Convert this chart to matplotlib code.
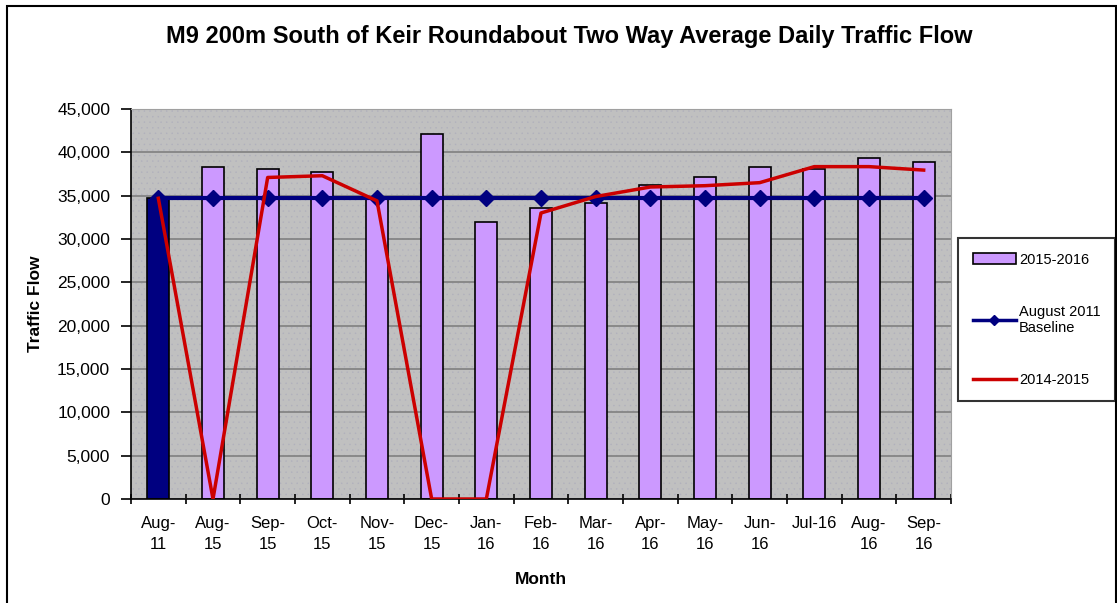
import numpy as np
import matplotlib
matplotlib.use("Agg")
import matplotlib.pyplot as plt
from matplotlib.patches import Rectangle
from matplotlib.lines import Line2D

plt.rcParams['font.family'] = ['Liberation Sans', 'DejaVu Sans']
plt.rcParams['hatch.linewidth'] = 0.3

# dati
mesi = ['Aug-\n11', 'Aug-\n15', 'Sep-\n15', 'Oct-\n15', 'Nov-\n15', 'Dec-\n15', 'Jan-\n16',
        'Feb-\n16', 'Mar-\n16', 'Apr-\n16', 'May-\n16', 'Jun-\n16', 'Jul-16\n', 'Aug-\n16', 'Sep-\n16']
flusso_2015_2016 = [34700, 38300, 38100, 37700, 34800, 42100, 32000,
                    33600, 34200, 36200, 37200, 38300, 38100, 39300, 38900]
baseline_2011 = [34700] * 15
flusso_2014_2015 = [34700, 0, 37100, 37300, 34400, 0, 0,
                    33000, 34900, 36000, 36150, 36500, 38350, 38350, 37950]

x = np.arange(len(mesi))

fig = plt.figure(figsize=(11.17, 6.03), dpi=100)
ax = fig.add_axes([131 / 1117, 1 - 499 / 603, 820 / 1117, 390 / 603])

# sfondo grigio puntinato
ax.set_facecolor('#C0C0C0')
ax.add_patch(Rectangle((0, 0), 1, 1, transform=ax.transAxes, facecolor='none',
                       edgecolor='#B0B0BC', hatch='...', linewidth=0, zorder=0))

# griglia orizzontale
ax.yaxis.grid(True, color='#808080', linewidth=1.2, zorder=1)
ax.set_axisbelow(True)

colori = ['#000080'] + ['#CC99FF'] * (len(mesi) - 1)
ax.bar(x, flusso_2015_2016, width=0.4, color=colori, edgecolor='black', linewidth=1.2, zorder=2)

ax.plot(x, baseline_2011, color='#000080', linewidth=3, marker='D', markersize=8, zorder=3)
ax.plot(x, flusso_2014_2015, color='#CC0000', linewidth=2.5, zorder=4)

ax.set_xlim(-0.5, len(mesi) - 0.5)
ax.set_ylim(0, 45000)
ax.set_yticks(np.arange(0, 45001, 5000))
ax.set_yticklabels([f'{v:,}' for v in range(0, 45001, 5000)], fontsize=12.5)
ax.set_xticks(x)
ax.set_xticklabels(mesi, fontsize=12, linespacing=1.55)
ax.set_xticks(np.arange(-0.5, len(mesi), 1), minor=True)
ax.tick_params(axis='x', which='major', length=0, pad=12)
ax.tick_params(axis='x', which='minor', length=7, width=1.2, direction='inout')
ax.tick_params(axis='y', length=7, width=1.2, direction='out', pad=8)

for lato in ['top', 'right']:
    ax.spines[lato].set_color('#A0A0A0')
for lato in ['left', 'bottom']:
    ax.spines[lato].set_color('black')
    ax.spines[lato].set_linewidth(1.2)

ax.set_xlabel('Month', fontsize=12.5, fontweight='bold', labelpad=14)
ax.set_ylabel('Traffic Flow', fontsize=12.5, fontweight='bold', labelpad=10)

fig.text(569 / 1117, 1 - 36 / 603, 'M9 200m South of Keir Roundabout Two Way Average Daily Traffic Flow',
         ha='center', va='center', fontsize=17, fontweight='bold')

# legenda
maniglie = [Rectangle((0, 0), 1, 1, facecolor='#CC99FF', edgecolor='black', linewidth=1.2),
            Line2D([], [], color='#000080', linewidth=2.5, marker='D', markersize=5),
            Line2D([], [], color='#CC0000', linewidth=2.5)]
etichette = ['2015-2016', 'August 2011\nBaseline', '2014-2015']
leg = fig.legend(maniglie, etichette, loc='upper left', bbox_to_anchor=(958 / 1117, 1 - 238 / 603),
                 fontsize=10.5, frameon=True, fancybox=False, edgecolor='black', labelspacing=2.6,
                 handlelength=3.0, handletextpad=0.2, borderpad=1.0, borderaxespad=0,
                 handleheight=0.7)
leg.get_frame().set_linewidth(1.5)

# cornice esterna
fig.patches.append(Rectangle((7 / 1117, -0.01), 1109 / 1117, 1 - 6 / 603 + 0.01, transform=fig.transFigure,
                             facecolor='none', edgecolor='black', linewidth=1.5))

fig.savefig('out.png', dpi=100)
